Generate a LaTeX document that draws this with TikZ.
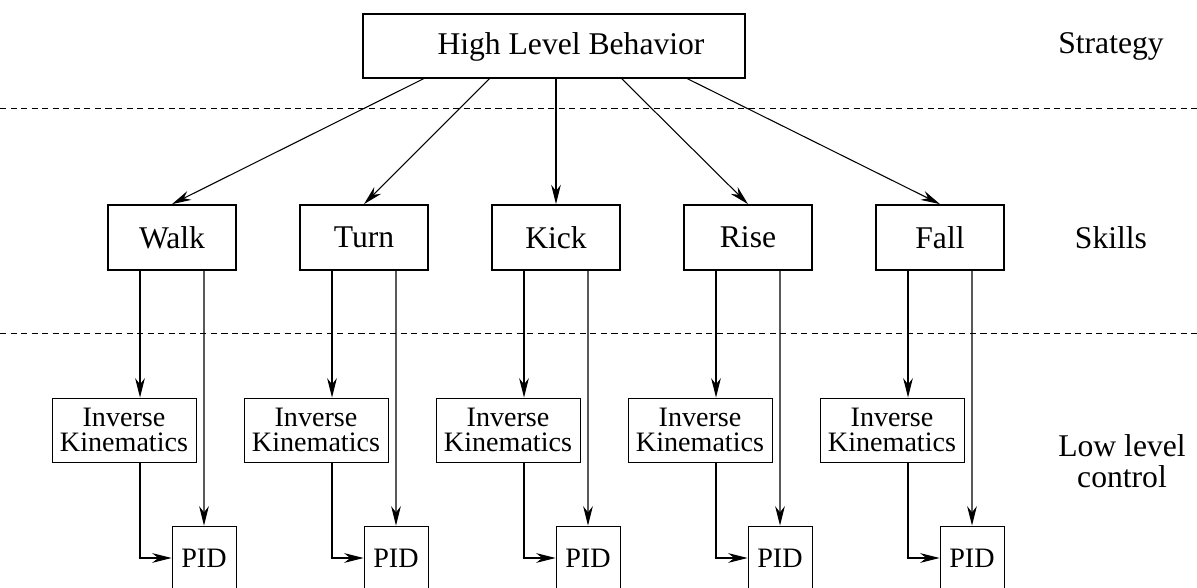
\documentclass[tikz,border=0pt]{standalone}
\usepackage{fontspec}
\setmainfont{Liberation Serif}
\usepackage{tikz}
\usetikzlibrary{arrows.meta}
\tikzset{
  skillbox/.style={draw,line width=1pt,minimum width=2.56cm,minimum height=1.3cm,font=\fontsize{18}{18}\selectfont},
  topbox/.style={draw,line width=1pt,minimum width=7.64cm,minimum height=1.28cm},
  ikbox/.style={draw,line width=0.55pt,minimum width=2.88cm,minimum height=1.28cm,align=center,font=\fontsize{16}{14.5}\selectfont},
  pidbox/.style={draw,line width=0.55pt,minimum width=1.28cm,minimum height=1.28cm,font=\fontsize{16}{16}\selectfont},
  lvltext/.style={align=center,font=\fontsize{18}{17.6}\selectfont},
  arr/.style={-{Stealth[length=11pt,width=5.5pt,inset=3.5pt]},line width=0.6pt},
  sep/.style={dash pattern=on 3.5pt off 2.5pt,line width=0.5pt}
}
\begin{document}
\begin{tikzpicture}[x=0.02cm,y=-0.02cm]
\useasboundingbox (0,0) rectangle (1197,588);
\clip (0,0) rectangle (1197,588);
\node[topbox] (hlb) at (554,46) {};
\node[lvltext] (hlbtext) at (571,47) {High Level Behavior};
\node[lvltext] (strategy) at (1111,46) {Strategy};
\node[lvltext] (skills) at (1111,238) {Skills};
\node[lvltext] (lowlevel) at (1122,461) {Low level\\control};
\coordinate (sepA1) at (0,108);
\coordinate (sepA2) at (1197,108);
\coordinate (sepB1) at (0,333);
\coordinate (sepB2) at (1197,333);
\draw[sep] (sepA1) -- (sepA2);
\draw[sep] (sepB1) -- (sepB2);
\node[skillbox] (walk) at (172,237.5) {Walk};
\node[skillbox] (turn) at (364,237.5) {Turn};
\node[skillbox] (kick) at (556,237.5) {Kick};
\node[skillbox] (rise) at (748,237.5) {Rise};
\node[skillbox] (fall) at (940,237.5) {Fall};
\coordinate (h1) at (425,78);
\coordinate (h2) at (490,78);
\coordinate (h3) at (556,78);
\coordinate (h4) at (621,78);
\coordinate (h5) at (686,78);
\draw[arr] (h1) -- (walk.north);
\draw[arr] (h2) -- (turn.north);
\draw[arr] (h3) -- (kick.north);
\draw[arr] (h4) -- (rise.north);
\draw[arr] (h5) -- (fall.north);
\node[ikbox] (ik1) at (124,430) {Inverse\\Kinematics};
\node[ikbox] (ik2) at (316,430) {Inverse\\Kinematics};
\node[ikbox] (ik3) at (508,430) {Inverse\\Kinematics};
\node[ikbox] (ik4) at (700,430) {Inverse\\Kinematics};
\node[ikbox] (ik5) at (892,430) {Inverse\\Kinematics};
\node[pidbox] (pid1) at (204,558) {PID};
\node[pidbox] (pid2) at (396,558) {PID};
\node[pidbox] (pid3) at (588,558) {PID};
\node[pidbox] (pid4) at (780,558) {PID};
\node[pidbox] (pid5) at (972,558) {PID};
\draw[arr] ([xshift=-0.64cm]walk.south) -- ([xshift=-0.64cm]walk.south |- ik1.north);
\draw[arr] ([xshift=-0.64cm]turn.south) -- ([xshift=-0.64cm]turn.south |- ik2.north);
\draw[arr] ([xshift=-0.64cm]kick.south) -- ([xshift=-0.64cm]kick.south |- ik3.north);
\draw[arr] ([xshift=-0.64cm]rise.south) -- ([xshift=-0.64cm]rise.south |- ik4.north);
\draw[arr] ([xshift=-0.64cm]fall.south) -- ([xshift=-0.64cm]fall.south |- ik5.north);
\draw[arr] ([xshift=0.64cm]walk.south) -- (pid1.north);
\draw[arr] ([xshift=0.64cm]turn.south) -- (pid2.north);
\draw[arr] ([xshift=0.64cm]kick.south) -- (pid3.north);
\draw[arr] ([xshift=0.64cm]rise.south) -- (pid4.north);
\draw[arr] ([xshift=0.64cm]fall.south) -- (pid5.north);
\draw[arr] ([xshift=0.32cm]ik1.south) |- (pid1.west);
\draw[arr] ([xshift=0.32cm]ik2.south) |- (pid2.west);
\draw[arr] ([xshift=0.32cm]ik3.south) |- (pid3.west);
\draw[arr] ([xshift=0.32cm]ik4.south) |- (pid4.west);
\draw[arr] ([xshift=0.32cm]ik5.south) |- (pid5.west);
\end{tikzpicture}
\end{document}
